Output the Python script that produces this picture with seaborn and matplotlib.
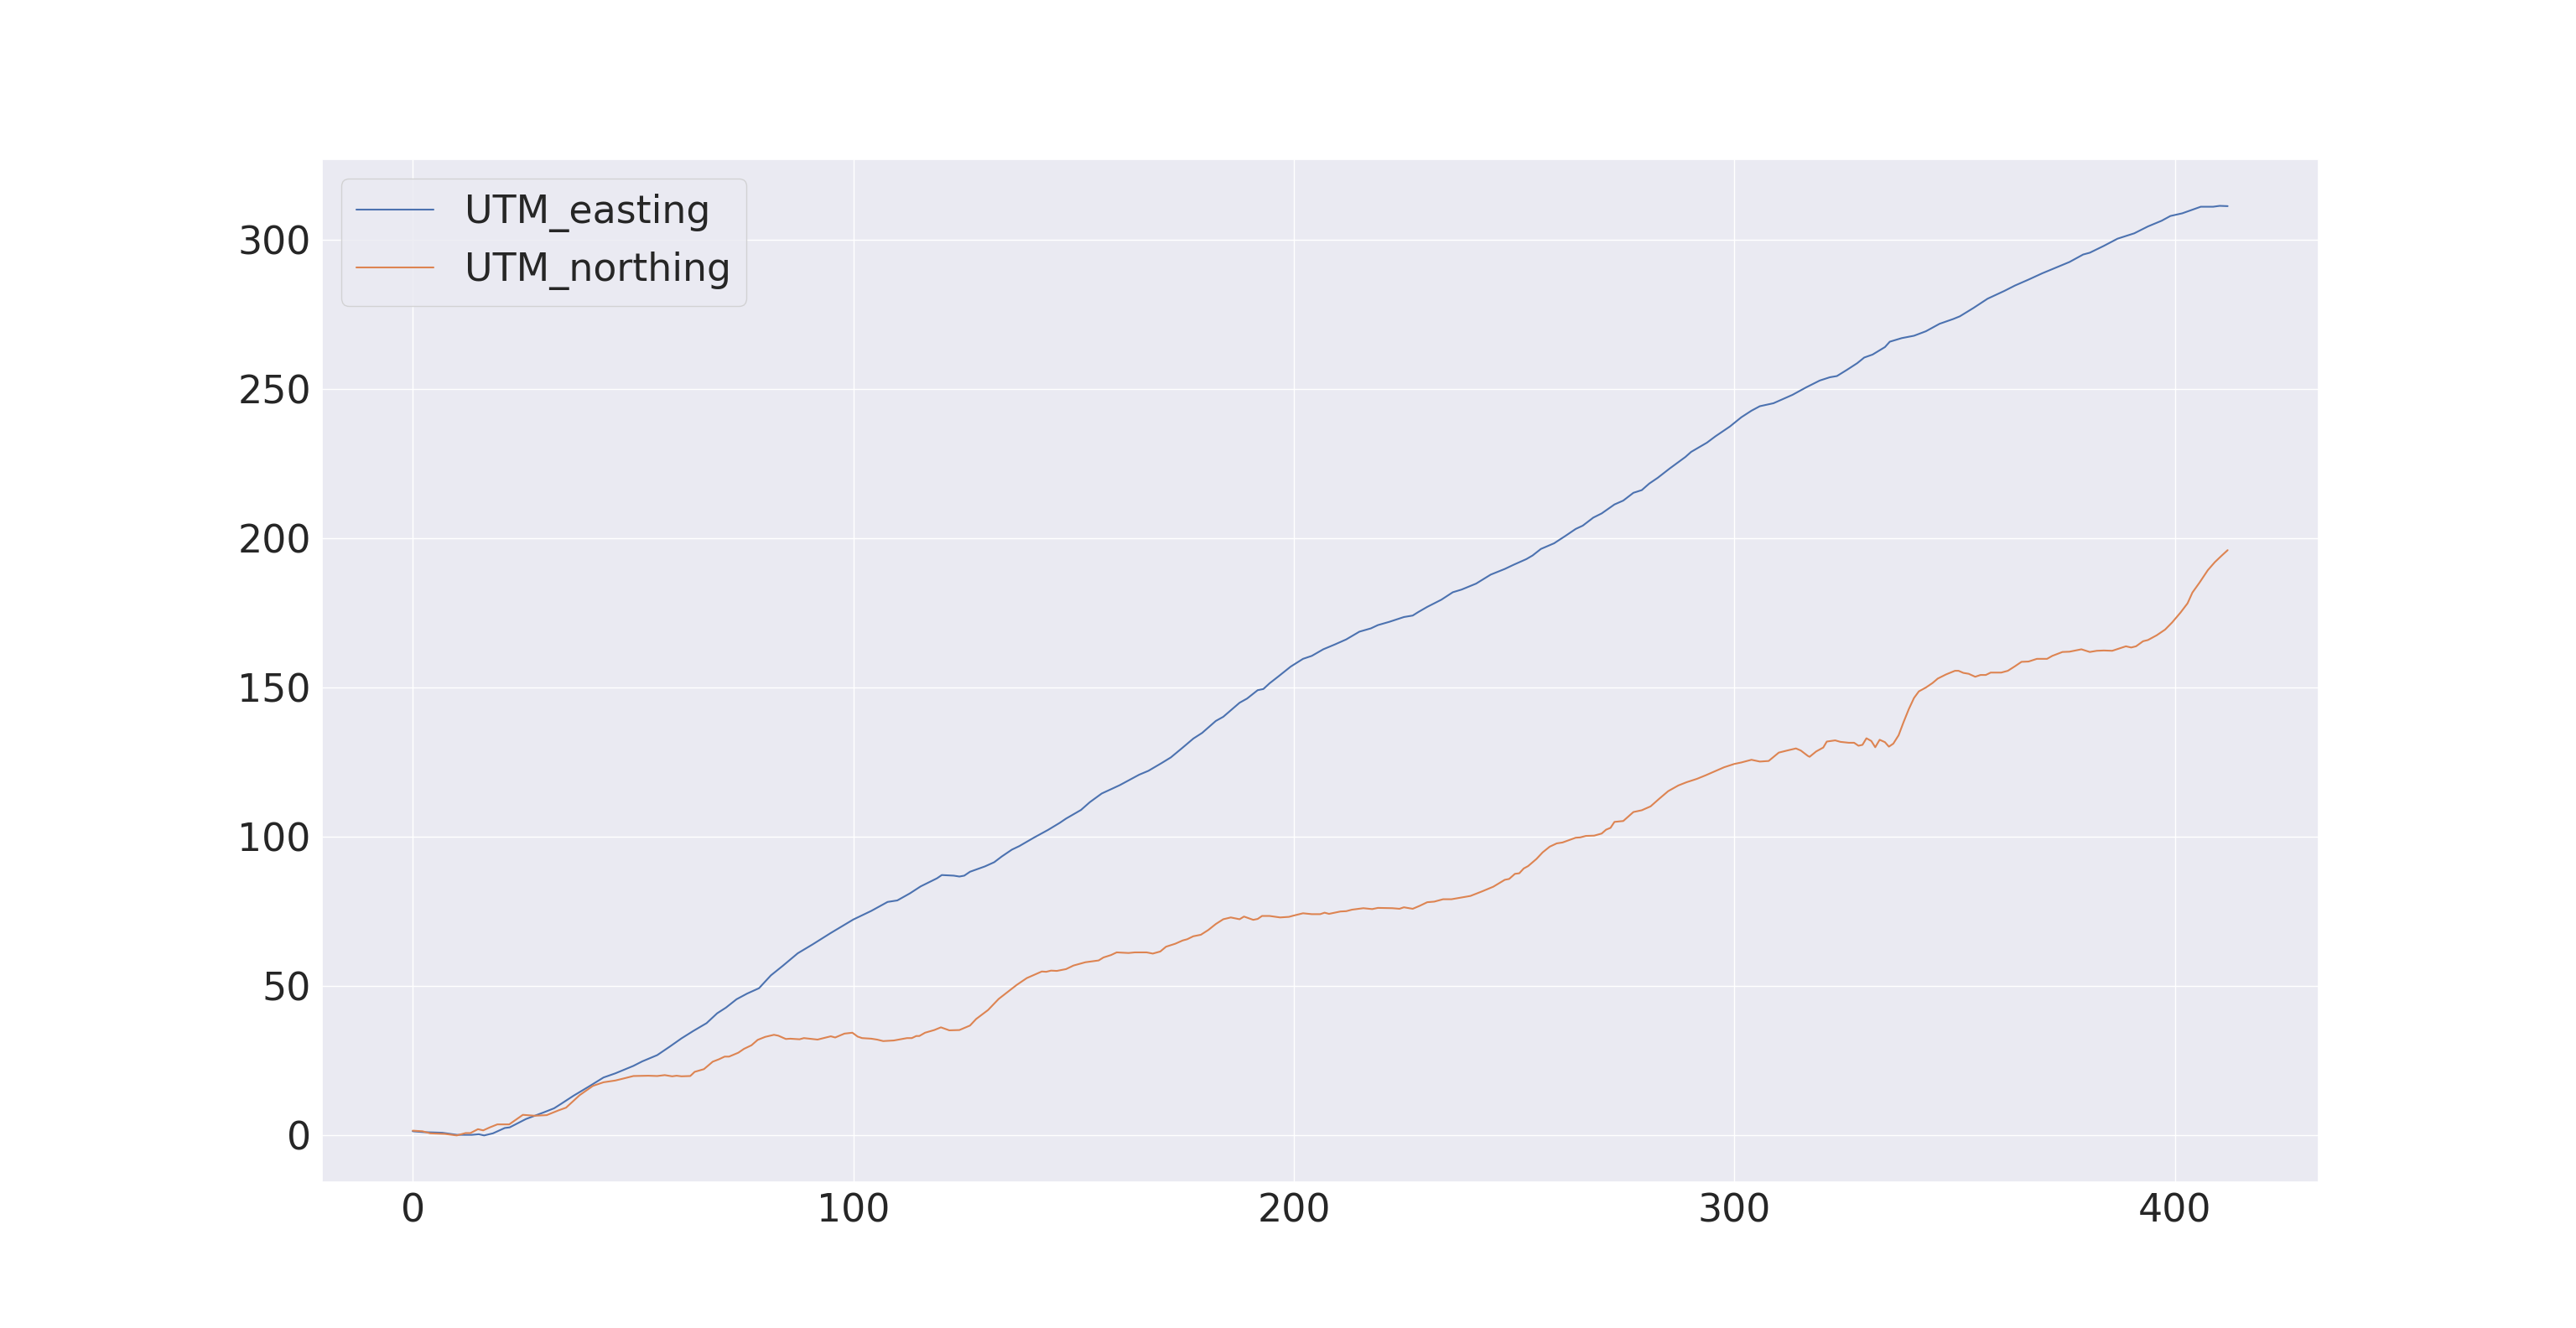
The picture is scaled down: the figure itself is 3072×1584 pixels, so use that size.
import seaborn as sns
import matplotlib
matplotlib.use("Agg")
import matplotlib.pyplot as plt
import pandas as pd

# easting track
east_x = [0, 2.6, 6.7, 10, 13.4, 15, 16.2, 18.2, 20.9, 22, 25.7, 29.7, 32.1, 33.8, 36.5, 39.9,
          43.3, 46, 50.1, 52.1, 55.5, 58.3, 61, 63.7, 66.7, 69.1, 71.1, 73.5, 75.9, 78.6, 81.3,
          84, 87.4, 90.8, 94.9, 100, 104.1, 107.8, 110, 112.9, 115.3, 119, 120.1, 122.8, 124.1,
          125.2, 126.5, 129.9, 132, 133.7, 136, 137.7, 141.1, 144.2, 146.9, 148.3, 151.7, 153.7,
          156.4, 160.5, 164.9, 167, 170, 172.1, 174.8, 177.2, 179.2, 182.3, 184, 187.7, 189.4,
          191.8, 193.1, 194.5, 196.5, 199.3, 202.1, 204.1, 206.7, 209.3, 211.9, 214.9, 217.5,
          219.1, 221.7, 225, 227, 228.3, 230.3, 233.5, 236.1, 238.1, 241.4, 244.7, 247.9, 249.9,
          252.8, 254.2, 256.1, 259.1, 261.7, 264, 265.6, 268, 269.9, 272.8, 274.8, 277.1, 279,
          280.7, 282.6, 285.3, 288.9, 290.2, 293.8, 295.7, 299, 301.6, 303.9, 305.8, 308.9,
          313.2, 316.3, 319.4, 321.7, 323.3, 325.6, 327.9, 329.5, 331.4, 334.2, 335.3, 338,
          340.8, 343.5, 346.6, 349.7, 351.2, 354.3, 357.5, 361.3, 363.7, 366.8, 369.9, 373,
          376.1, 379.2, 380.7, 383.9, 387, 390.8, 393.9, 397, 399, 401.7, 404, 405.9, 408.7,
          410.2, 412]
east_y = [1.4, 1.1, 0.9, 0.2, 0.2, 0.4, 0, 0.7, 2.5, 2.7, 5.5, 7.7, 9.1, 10.7, 13.3, 16.3,
          19.4, 20.8, 23.3, 24.8, 26.9, 29.7, 32.5, 35, 37.6, 40.9, 42.8, 45.6, 47.5, 49.3, 53.6,
          56.8, 61, 64, 67.8, 72.3, 75.2, 78.2, 78.7, 81.1, 83.4, 86.1, 87.2, 87, 86.7,
          87, 88.3, 90.1, 91.5, 93.4, 95.7, 96.9, 99.8, 102.3, 104.7, 106.1, 109, 111.6,
          114.5, 117.3, 120.8, 122.1, 124.7, 126.6, 129.9, 132.9, 134.8, 138.8, 140.2, 144.9, 146.3,
          149.1, 149.5, 151.4, 153.7, 157, 159.6, 160.6, 162.8, 164.4, 166.1, 168.7, 169.8,
          170.9, 172, 173.6, 174.1, 175.3, 177, 179.4, 181.9, 182.8, 184.8, 187.8, 189.7, 191.1,
          193, 194.2, 196.4, 198.3, 200.8, 203.1, 204.2, 206.9, 208.3, 211.3, 212.6, 215.2, 216.1,
          218.3, 220.2, 223.3, 227.2, 228.9, 232, 234.1, 237.4, 240.5, 242.7, 244.2, 245.2,
          248, 250.5, 252.8, 253.9, 254.3, 256.4, 258.6, 260.5, 261.5, 264, 265.8, 267,
          267.8, 269.3, 271.8, 273.4, 274.3, 277.1, 280.2, 282.8, 284.6, 286.6, 288.7, 290.6,
          292.5, 295, 295.6, 297.9, 300.3, 302.1, 304.4, 306.3, 307.9, 308.8, 310, 311, 311,
          311.3, 311.2]

# northing track
north_x = [0, 2.2, 4, 7.3, 10, 12, 13.1, 14.8, 16, 17.5, 19.2, 21.9, 25, 27.7, 30.4, 33.1,
           34.8, 37.9, 40.9, 43.3, 46, 47.4, 50.1, 53.5, 55.5, 57.2, 58.9, 59.9, 61, 63, 64,
           66.1, 68.1, 69.5, 70.8, 71.8, 73.9, 75.2, 76.9, 78.3, 80, 82, 83, 84.7, 85.7, 87.8,
           88.8, 91.9, 94.9, 95.9, 98, 99.8, 101, 102, 104.1, 105.4, 106.8, 109.2, 112.2, 113.3,
           114.3, 115, 116.3, 118.4, 119.9, 121.8, 124.1, 126.5, 127.9, 130.6, 133, 135, 137.1,
           139.4, 142.8, 143.8, 144.9, 146.2, 148.3, 150, 152.7, 155.7, 156.8, 158.5, 159.8,
           162.5, 163.9, 166.6, 168, 169.7, 171, 173.1, 174.8, 175.8, 177.2, 178.9, 180.6, 182.3,
           184, 185.7, 187.7, 188.7, 190.8, 191.8, 192.8, 194.5, 196.9, 198.9, 199.9, 202.1,
           204.1, 206, 207, 208, 210.6, 211.9, 213.2, 215.8, 217.8, 219.1, 222.4, 224, 225, 227,
           228.6, 230.3, 231.9, 233.9, 235.8, 238.1, 240.1, 242.7, 245.3, 247.9, 248.9, 250.2,
           251.2, 252.2, 253.2, 255.1, 256.5, 258.1, 259.7, 261, 264, 265, 266.3, 268.2, 269.9,
           270.9, 271.9, 272.8, 274.8, 277.1, 279, 281, 283, 285, 287.3, 289.2, 291.5, 293.5,
           295.7, 297.7, 300, 301.6, 303.9, 305.8, 307.8, 310.1, 312, 314, 315.1, 316.7, 317.1,
           318.6, 320.2, 321, 322.9, 324.1, 326, 327.2, 328.2, 329.1, 330, 331.1, 332, 333,
           334.2, 335.1, 336.1, 337.3, 338.4, 339.6, 340.8, 341.9, 343.5, 345, 346.2, 348.1,
           350.1, 350.9, 352, 353.2, 354.7, 355.9, 357.1, 358.2, 360.6, 362.1, 363.7, 365.2,
           366.8, 368.7, 371, 372.2, 374.5, 376.1, 378.8, 380.7, 382.3, 383.9, 385.8, 387.7,
           388.9, 390.1, 391.2, 392.8, 393.9, 395.9, 397.8, 399.4, 401.3, 402.9, 404, 405.6,
           407.5, 409.1, 410.6, 412]
north_y = [1.6, 1.4, 0.7, 0.5, 0, 0.8, 0.8, 2.1, 1.7, 2.7, 3.7, 3.7, 6.9, 6.6, 6.8, 8.4,
           9.3, 13.5, 16.6, 17.8, 18.4, 18.9, 19.9, 20, 19.9, 20.2, 19.8, 20, 19.8, 19.9, 21.3,
           22.2, 24.7, 25.5, 26.4, 26.4, 27.7, 29, 30.2, 32, 33, 33.7, 33.4, 32.3, 32.4, 32.2,
           32.6, 32.1, 33.2, 32.8, 34.1, 34.4, 33.1, 32.6, 32.4, 32.1, 31.6, 31.8, 32.6, 32.6,
           33.3, 33.3, 34.4, 35.3, 36.2, 35.2, 35.3, 36.8, 39, 42, 45.7, 48, 50.4,
           52.7, 54.9, 54.8, 55.2, 55.1, 55.7, 56.9, 58, 58.6, 59.6, 60.4, 61.3,
           61.1, 61.3, 61.3, 60.9, 61.6, 63.2, 64.2, 65.3, 65.7, 66.7, 67.2, 68.8, 70.8,
           72.4, 73, 72.4, 73.3, 72.2, 72.5, 73.5, 73.5, 73, 73.2, 73.6, 74.4,
           74.1, 74.1, 74.6, 74.2, 75, 75.1, 75.6, 76.1, 75.8, 76.2, 76.1, 75.9, 76.4, 75.9,
           76.9, 78.1, 78.3, 79.1, 79.1, 79.7, 80.2, 81.7, 83.3, 85.6, 85.9, 87.6,
           87.8, 89.4, 90.2, 92.6, 94.8, 96.7, 97.8, 98.1, 99.7, 99.8, 100.3, 100.4, 101.1,
           102.4, 103, 105, 105.3, 108.3, 108.9, 110.2, 112.8, 115.3, 117.2, 118.3, 119.4, 120.6,
           122, 123.3, 124.4, 124.9, 125.8, 125.2, 125.4, 128.2, 128.9, 129.6, 128.9, 127.1, 126.8,
           128.6, 129.9, 131.9, 132.3, 131.8, 131.5, 131.5, 130.5, 130.8, 133, 132.1, 130, 132.5,
           131.7, 130.2, 131.2, 134, 138.3, 142.7, 146.5, 148.7, 150, 151.5, 153, 154.4,
           155.6, 155.6, 154.9, 154.6, 153.6, 154.2, 154.2, 155, 155, 155.6, 157.1, 158.6,
           158.7, 159.6, 159.6, 160.6, 161.9, 162, 162.8, 161.9, 162.3, 162.4, 162.3, 163.2,
           163.8, 163.4, 163.8, 165.5, 165.9, 167.5, 169.4, 171.8, 175.1, 178.2, 181.8, 185.1,
           189.3, 192, 194.1, 196]

df = pd.concat([
    pd.DataFrame({"x": east_x, "value": east_y, "series": "UTM_easting"}),
    pd.DataFrame({"x": north_x, "value": north_y, "series": "UTM_northing"}),
])

sns.set_theme(style="darkgrid", font_scale=3.0)
fig, ax = plt.subplots(figsize=(30.72, 15.84), dpi=100)

sns.lineplot(data=df, x="x", y="value", hue="series", estimator=None, sort=True, ax=ax)

ax.set_xlabel("")
ax.set_ylabel("")
ax.legend(loc="upper left")

plt.savefig("out.png", dpi=100)
